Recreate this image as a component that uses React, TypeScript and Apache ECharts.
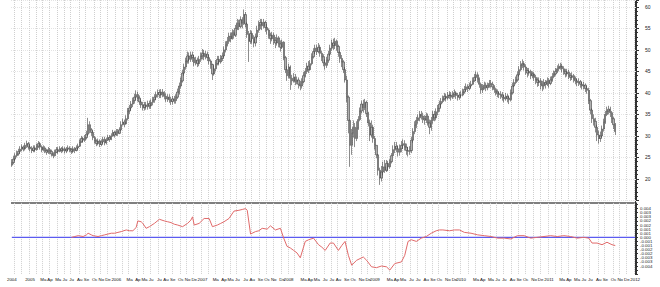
import React, { useEffect, useRef } from "react";
import * as echarts from "echarts";

// ---- data ----
const START_DATE = "2004-10-22";
const TOTAL_WEEKS = 377;
const MONTH_ABBR = ["Ja", "Fe", "Ma", "Ap", "Ma", "Ju", "Ju", "Au", "Se", "Oc", "No", "De"];
const firstOpen = 23.2;

const closes = [
  23.8, 24.6, 25.4, 25.8, 26.4, 26.9, 27.4, 27.0, 27.8, 28.2,
  27.4, 27.0, 26.6, 27.2, 26.8, 27.6, 28.2, 27.4, 26.8, 27.2,
  26.6, 26.2, 26.8, 26.4, 25.8, 25.4, 26.2, 26.8, 26.4, 27.0,
  26.6, 27.0, 26.5, 26.9, 27.2, 26.8, 26.4, 27.0, 26.6, 27.2,
  27.6, 28.6, 29.4, 29.0, 29.6, 30.4, 32.6, 31.4, 30.8, 29.6,
  28.8, 28.2, 28.8, 28.0, 28.6, 29.2, 28.4, 29.0, 29.6, 29.2,
  30.0, 30.8, 30.2, 31.0, 30.6, 31.4, 32.6, 33.2, 32.8, 34.0,
  35.8, 36.5, 37.4, 38.2, 39.0, 39.6, 38.8, 37.9, 37.2, 36.6,
  37.2, 36.8, 37.5, 37.0, 37.8, 38.4, 39.0, 39.6, 40.1, 39.5,
  40.2, 39.7, 39.2, 38.6, 39.0, 38.4, 38.0, 38.6, 38.2, 39.0,
  40.2, 41.6, 42.8, 44.6, 46.0, 47.4, 48.6, 47.8, 48.8, 48.2,
  47.0, 47.6, 46.8, 47.8, 48.6, 49.2, 48.4, 49.0, 48.2, 47.4,
  46.6, 44.4, 45.6, 46.8, 47.8, 47.2, 48.0, 48.6, 50.0, 51.2,
  52.0, 53.2, 52.6, 54.0, 53.4, 55.0, 56.2, 55.4, 57.0, 56.2,
  58.2, 56.0, 53.6, 52.0, 53.8, 52.6, 51.6, 53.0, 54.6, 55.8,
  56.4, 55.6, 56.4, 55.2, 54.6, 53.4, 52.6, 53.4, 52.2, 51.6,
  52.8, 51.4, 50.6, 51.8, 48.2, 45.4, 44.0, 46.0, 43.4, 42.8,
  43.6, 42.6, 43.0, 42.0, 41.6, 42.6, 44.0, 45.0, 46.2, 45.4,
  46.8, 48.4, 49.6, 50.4, 49.6, 50.6, 49.2, 48.4, 47.0, 46.4,
  47.6, 49.0, 50.4, 51.6, 51.0, 52.0, 50.8, 49.4, 48.0, 47.2,
  45.4, 43.0, 39.0, 33.6, 27.8, 30.6, 32.0, 29.4, 31.8, 33.8,
  35.8, 37.4, 36.6, 37.8, 35.2, 33.0, 30.2, 32.0, 29.4, 27.8,
  25.6, 22.0, 20.2, 21.6, 22.8, 22.0, 23.6, 22.8, 24.0, 25.4,
  26.8, 27.6, 27.0, 26.2, 27.0, 27.8, 28.2, 27.4, 26.6, 26.4,
  26.6, 29.0, 31.0, 32.5, 33.6, 34.2, 35.0, 34.6, 34.0, 33.7,
  34.6, 33.0, 32.0, 33.6, 35.0, 34.2, 35.6, 36.4, 37.4, 38.0,
  38.6, 39.2, 38.8, 39.4, 39.5, 39.0, 39.6, 40.0, 39.4, 39.0,
  39.5, 39.5, 40.2, 40.8, 41.4, 41.0, 41.6, 42.0, 42.8, 43.6,
  44.2, 43.2, 42.0, 40.7, 41.2, 41.8, 41.2, 41.6, 42.2, 42.0,
  41.4, 40.8, 40.2, 39.8, 39.6, 39.5, 39.0, 38.6, 39.2, 38.8,
  38.4, 40.0, 41.6, 42.4, 43.0, 44.2, 45.4, 46.5, 46.8, 46.0,
  45.2, 44.6, 45.0, 44.0, 44.4, 43.6, 43.0, 42.4, 42.8, 42.0,
  41.6, 42.4, 42.0, 42.8, 42.2, 43.0, 43.8, 44.4, 45.0, 45.6,
  46.0, 46.2, 45.6, 45.0, 44.4, 44.8, 44.0, 43.6, 44.0, 43.2,
  42.8, 42.4, 42.6, 42.0, 41.6, 41.8, 41.0, 40.6, 38.2, 36.0,
  34.0, 33.4, 32.0, 30.2, 29.4, 30.0, 31.6, 33.2, 35.0, 35.8,
  36.2, 35.4, 34.0, 32.6, 31.0,
];

const highs = [
  24.6, 25.4, 26.0, 26.6, 27.0, 27.6, 28.0, 27.8, 28.4, 28.9,
  28.6, 28.0, 27.6, 27.8, 27.8, 28.2, 28.8, 28.6, 27.8, 27.8,
  27.6, 27.0, 27.4, 27.2, 26.8, 26.2, 26.8, 27.4, 27.4, 27.6,
  27.4, 27.6, 27.4, 27.4, 27.8, 27.6, 27.2, 27.6, 27.4, 27.8,
  28.2, 29.2, 30.0, 29.8, 30.2, 31.2, 34.2, 33.4, 31.8, 31.2,
  30.0, 29.2, 29.4, 29.2, 29.2, 29.8, 29.8, 29.6, 30.2, 30.2,
  30.6, 31.4, 31.2, 31.6, 31.6, 32.0, 33.4, 34.0, 33.8, 34.8,
  36.5, 37.2, 38.1, 38.9, 39.8, 40.6, 40.3, 39.4, 38.5, 37.9,
  37.9, 37.9, 38.2, 38.2, 38.5, 39.1, 39.7, 40.3, 40.8, 40.8,
  40.9, 40.9, 40.4, 39.9, 39.7, 39.7, 39.1, 39.3, 39.3, 39.7,
  41.0, 42.4, 43.6, 45.4, 46.8, 48.2, 49.6, 49.4, 49.6, 49.6,
  48.8, 48.4, 48.2, 48.6, 49.4, 50.2, 50.0, 49.8, 49.6, 48.8,
  47.8, 46.8, 46.4, 47.6, 48.6, 48.6, 48.8, 49.4, 50.8, 52.0,
  53.0, 54.0, 54.0, 54.8, 54.6, 55.8, 57.2, 57.0, 57.8, 57.6,
  59.4, 58.8, 56.4, 54.4, 54.6, 54.4, 53.4, 53.8, 55.6, 56.8,
  57.2, 57.2, 57.2, 56.8, 56.0, 55.0, 54.0, 54.2, 54.0, 53.0,
  53.6, 53.2, 52.2, 52.4, 52.0, 48.6, 46.2, 46.8, 46.4, 44.2,
  44.6, 44.4, 43.8, 43.6, 42.8, 43.4, 44.8, 45.8, 47.0, 47.4,
  47.6, 49.2, 50.4, 51.2, 51.2, 51.6, 51.2, 49.8, 49.0, 47.8,
  48.4, 49.8, 51.2, 52.4, 52.6, 52.8, 52.4, 51.2, 49.6, 48.8,
  47.6, 46.0, 44.0, 39.4, 33.8, 31.6, 33.6, 33.0, 33.4, 34.6,
  36.6, 38.2, 38.4, 38.6, 38.2, 35.6, 33.8, 33.6, 32.6, 30.0,
  27.4, 25.8, 22.6, 23.0, 24.0, 24.4, 24.4, 24.2, 24.6, 26.0,
  27.8, 28.6, 28.6, 27.8, 28.0, 28.8, 29.2, 29.0, 28.2, 27.4,
  27.6, 29.8, 31.8, 33.4, 34.4, 35.0, 35.8, 35.8, 35.4, 34.8,
  35.4, 35.2, 33.8, 34.4, 35.8, 35.8, 36.4, 37.2, 38.2, 38.8,
  39.4, 40.0, 39.8, 40.2, 40.4, 40.2, 40.4, 40.8, 40.4, 40.0,
  40.2, 40.4, 41.0, 41.6, 42.2, 42.0, 42.4, 42.8, 43.6, 44.4,
  45.0, 44.8, 43.6, 42.4, 42.0, 42.6, 42.4, 42.4, 43.0, 43.0,
  42.6, 41.8, 41.2, 40.8, 40.4, 40.4, 40.2, 39.6, 40.0, 39.8,
  39.4, 40.8, 42.4, 43.2, 43.8, 45.0, 46.2, 47.4, 47.8, 47.4,
  46.6, 45.8, 45.8, 45.4, 45.0, 44.8, 44.2, 43.6, 43.6, 43.4,
  42.8, 43.2, 43.0, 43.6, 43.4, 43.8, 44.6, 45.2, 45.8, 46.4,
  46.8, 47.0, 46.8, 46.2, 45.6, 45.6, 45.4, 44.6, 44.8, 44.4,
  43.8, 43.4, 43.4, 43.0, 42.6, 42.6, 42.2, 41.6, 41.2, 38.6,
  36.4, 35.0, 34.2, 32.6, 31.2, 31.0, 32.4, 34.0, 35.8, 36.8,
  37.0, 36.8, 35.8, 34.4, 33.0,
];

const lows = [
  22.8, 23.4, 24.2, 25.0, 25.4, 25.9, 26.4, 26.4, 26.6, 27.2,
  26.8, 26.4, 26.0, 26.2, 26.2, 26.6, 27.2, 26.8, 26.2, 26.4,
  26.0, 25.6, 25.8, 25.8, 25.2, 24.8, 25.2, 26.0, 25.8, 26.2,
  26.0, 26.2, 25.9, 26.0, 26.4, 26.2, 25.8, 26.0, 26.0, 26.4,
  26.8, 27.4, 28.4, 28.4, 28.6, 29.2, 30.0, 30.6, 30.0, 29.0,
  28.2, 27.6, 27.8, 27.4, 27.6, 28.2, 27.8, 28.0, 28.8, 28.6,
  29.0, 29.8, 29.6, 30.0, 30.0, 30.4, 31.2, 32.4, 32.0, 32.6,
  33.6, 35.1, 35.9, 36.7, 37.5, 38.3, 38.0, 37.2, 36.5, 35.9,
  35.9, 36.1, 36.1, 36.3, 36.3, 37.1, 37.7, 38.3, 38.9, 38.8,
  38.8, 39.0, 38.5, 37.9, 37.9, 37.7, 37.2, 37.3, 37.5, 37.5,
  38.6, 39.6, 41.0, 42.4, 44.0, 45.4, 46.8, 46.8, 47.2, 47.2,
  46.2, 46.4, 46.0, 46.2, 47.2, 47.8, 47.6, 47.8, 47.4, 46.6,
  45.6, 43.0, 44.0, 45.0, 46.4, 46.4, 46.8, 47.4, 48.2, 49.4,
  50.8, 51.4, 51.8, 52.4, 52.6, 53.0, 54.6, 54.6, 55.0, 55.0,
  55.8, 55.2, 52.8, 47.2, 51.4, 51.4, 50.6, 50.8, 52.6, 54.0,
  54.8, 54.6, 55.0, 54.2, 53.6, 52.6, 51.4, 52.0, 51.2, 50.4,
  51.0, 50.6, 49.6, 50.2, 47.6, 44.6, 42.8, 43.4, 40.7, 41.8,
  42.4, 41.8, 42.0, 41.0, 40.6, 41.0, 42.2, 43.6, 44.4, 44.6,
  45.2, 46.4, 48.0, 49.0, 48.8, 49.2, 48.4, 47.4, 46.2, 45.4,
  45.8, 47.0, 48.6, 49.8, 50.0, 50.2, 49.8, 48.4, 47.0, 46.0,
  44.6, 42.4, 37.8, 30.6, 22.8, 25.6, 29.6, 27.4, 28.8, 31.4,
  33.4, 35.2, 35.4, 36.0, 34.4, 32.2, 28.8, 29.6, 28.4, 26.8,
  24.8, 20.8, 18.6, 19.4, 20.8, 21.4, 21.6, 21.8, 22.4, 23.6,
  25.4, 26.0, 26.2, 25.2, 25.4, 26.2, 27.0, 26.6, 25.6, 25.2,
  25.6, 26.0, 28.4, 30.4, 31.8, 32.8, 33.4, 33.8, 33.0, 32.6,
  33.0, 32.4, 30.4, 31.2, 32.8, 33.4, 33.6, 34.8, 35.6, 36.6,
  37.6, 38.2, 38.0, 38.4, 38.6, 38.2, 38.6, 39.0, 38.6, 38.2,
  38.4, 38.8, 39.2, 39.8, 40.4, 40.2, 40.6, 41.2, 41.8, 42.6,
  42.8, 42.4, 41.2, 39.8, 40.0, 40.8, 40.4, 40.6, 41.2, 41.2,
  40.6, 40.0, 39.4, 39.0, 38.8, 38.6, 38.2, 37.8, 38.2, 37.8,
  37.4, 38.0, 39.6, 41.4, 42.0, 42.6, 43.8, 45.0, 45.8, 45.2,
  44.2, 43.6, 44.0, 43.2, 43.4, 42.8, 42.0, 41.4, 41.6, 40.8,
  40.4, 40.8, 41.0, 41.6, 41.2, 41.8, 42.6, 43.4, 44.0, 44.6,
  45.0, 45.4, 44.8, 44.2, 43.6, 43.8, 43.2, 42.8, 43.0, 42.4,
  42.0, 41.6, 41.6, 41.2, 40.8, 40.8, 40.2, 39.8, 37.4, 35.0,
  33.0, 32.4, 30.8, 28.8, 28.2, 28.6, 29.6, 31.0, 32.8, 34.6,
  35.0, 34.4, 33.0, 31.6, 30.2,
];

// oscillator: week number (from START_DATE) and value
const oscWeeks = [
  36, 38, 40, 43, 45, 46, 48, 49, 52, 54, 56, 58, 60, 62, 64, 66, 69, 71, 73, 75,
  76, 78, 79, 81, 83, 86, 89, 92, 94, 96, 98, 100, 103, 106, 108, 109, 110, 113, 116, 119,
  121, 124, 126, 128, 131, 134, 137, 139, 141, 142, 144, 147, 149, 151, 154, 156, 159, 162, 164, 166,
  168, 170, 172, 174, 177, 179, 182, 185, 187, 189, 192, 194, 197, 199, 201, 203, 205, 208, 210, 212,
  214, 217, 220, 223, 226, 228, 231, 235, 237, 239, 241, 244, 247, 250, 253, 256, 258, 260, 264, 267,
  270, 273, 277, 281, 285, 289, 293, 297, 301, 305, 309, 313, 317, 321, 325, 329, 333, 337, 341, 345,
  348, 350, 353, 356, 359, 362, 364,
];
const oscValues = [
  0, 0.0001, 0.0002, 0.0001, 0.0003, 0.0005, 0.0003, 0.0002, 0.0001, 0.0002, 0.0003, 0.0004, 0.0005, 0.0005, 0.0006, 0.0007, 0.0009, 0.0008, 0.0008, 0.0012,
  0.002, 0.0019, 0.0017, 0.0011, 0.0013, 0.0017, 0.0022, 0.002, 0.0019, 0.0018, 0.0016, 0.0015, 0.0013, 0.0017, 0.0021, 0.0025, 0.0015, 0.0017, 0.0023, 0.0023,
  0.0013, 0.0015, 0.0017, 0.0019, 0.0023, 0.0032, 0.0033, 0.0034, 0.0035, 0.0033, 0.0004, 0.0007, 0.0008, 0.0011, 0.001, 0.0014, 0.0009, 0.0011, -0.0001, -0.0011,
  -0.0013, -0.0016, -0.0019, -0.0025, -0.0005, -0.0003, -0.0001, -0.0009, -0.0012, -0.0016, -0.0007, -0.0007, -0.0016, -0.001, -0.0005, -0.0022, -0.0034, -0.0028, -0.0026, -0.0024,
  -0.0028, -0.0036, -0.0037, -0.0035, -0.0036, -0.004, -0.0032, -0.003, -0.0022, -0.0005, -0.0003, -0.0005, -0.0001, 0.0001, 0.0005, 0.0008, 0.0009, 0.0009, 0.0008, 0.0009,
  0.0009, 0.0006, 0.0005, 0.0003, 0.0002, 0.0001, -0.0001, -0.0001, -0.0002, 0.0002, 0.0002, -0.0001, 0, 0.0001, 0.0002, 0.0001, 0.0002, 0.0001, -0.0001, 0,
  -0.0001, -0.0007, -0.0007, -0.0009, -0.0006, -0.0009, -0.001,
];
const zeroLevel = 0;

// ---- derived tables ----
const categories: string[] = [];
{
  const [y, m, d] = START_DATE.split("-").map(Number);
  const t0 = Date.UTC(y, m - 1, d);
  for (let k = 0; k < TOTAL_WEEKS; k++) {
    categories.push(new Date(t0 + k * 7 * 86400000).toISOString().slice(0, 10));
  }
}
const monthStart = categories.map(
  (c, i) => i === 0 || c.slice(5, 7) !== categories[i - 1].slice(5, 7)
);
const labelShown = new Set<number>();
{
  let last = -100;
  let lastW = 0;
  categories.forEach((c, i) => {
    if (!monthStart[i]) return;
    const isYear = i === 0 || c.slice(5, 7) === "01";
    if (i - last >= lastW) {
      labelShown.add(i);
      last = i;
      lastW = i === 0 ? 8 : isYear ? 6 : 3;
    }
  });
}
const fmtLabel = (v: string, i: number) => {
  const mo = Number(v.slice(5, 7));
  if (i === 0 || mo === 1) return v.slice(0, 4);
  return MONTH_ABBR[mo - 1];
};

const candles = closes.map((c, i) => {
  const o = i === 0 ? firstOpen : closes[i - 1];
  return [o, c, Math.min(lows[i], o, c), Math.max(highs[i], o, c)];
});
const oscData = oscWeeks.map((w, i) => [w, oscValues[i]]);
const zeroData = [
  [0, zeroLevel],
  [TOTAL_WEEKS - 1, zeroLevel],
];

const FONT = "Liberation Sans";

export default function App() {
  const ref = useRef<HTMLDivElement>(null);
  useEffect(() => {
    if (!ref.current) return;
    const chart = echarts.init(ref.current, undefined, { renderer: "svg" });
    const gridSplit = {
      show: true,
      interval: (i: number) => monthStart[i] && i > 0,
      lineStyle: { color: "#cfcfcf", type: "dotted" as const, width: 1 },
    };
    chart.setOption({
      animation: false,
      backgroundColor: "#ffffff",
      grid: [
        { left: 11, right: 24, top: 0, height: 200.4 },
        { left: 11, right: 24, top: 202.9, height: 71.3 },
      ],
      xAxis: [
        {
          type: "category",
          gridIndex: 0,
          data: categories,
          boundaryGap: true,
          axisLine: { show: false },
          axisTick: { show: false },
          axisLabel: { show: false },
          splitLine: gridSplit,
        },
        {
          type: "category",
          gridIndex: 1,
          data: categories,
          boundaryGap: true,
          axisLine: { show: false, onZero: false },
          axisTick: { show: false },
          axisLabel: {
            show: true,
            interval: (i: number) => labelShown.has(i),
            formatter: fmtLabel,
            fontSize: 4.4,
            fontFamily: FONT,
            color: "#111",
            margin: 3,
            hideOverlap: false,
          },
          splitLine: gridSplit,
        },
      ],
      yAxis: [
        {
          type: "value",
          gridIndex: 0,
          position: "right",
          min: 15,
          max: 61.6,
          interval: 5,
          axisLine: { show: true, lineStyle: { color: "#333" } },
          axisTick: { show: true, length: 3, lineStyle: { color: "#333" } },
          minorTick: { show: true, splitNumber: 5, length: 2, lineStyle: { color: "#333" } },
          axisLabel: {
            fontSize: 5,
            fontFamily: FONT,
            color: "#222",
            margin: 9,
            showMaxLabel: false,
            formatter: (v: number) => (v === 15 || v % 5 !== 0 ? "" : String(v)),
          },
          splitLine: { show: true, lineStyle: { color: "#e4e4e4", type: "dotted" } },
        },
        {
          type: "value",
          gridIndex: 1,
          position: "right",
          min: -0.0045,
          max: 0.0042,
          interval: 0.0005,
          axisLine: { show: true, lineStyle: { color: "#333" } },
          axisTick: { show: true, length: 2, lineStyle: { color: "#333" } },
          axisLabel: {
            fontSize: 4.4,
            fontFamily: FONT,
            color: "#222",
            margin: 4,
            showMaxLabel: false,
            formatter: (v: number) => (Math.abs(v) > 0.00351 ? "" : v.toFixed(3)),
          },
          splitLine: { show: false },
        },
      ],
      graphic: [
        {
          type: "line",
          shape: { x1: 11, y1: 203, x2: 636, y2: 203 },
          style: { stroke: "#555", lineWidth: 1.5 },
        },
        {
          type: "line",
          shape: { x1: 635.5, y1: 0, x2: 635.5, y2: 275 },
          style: { stroke: "#333", lineWidth: 1 },
        },
      ],
      series: [
        {
          type: "candlestick",
          xAxisIndex: 0,
          yAxisIndex: 0,
          data: candles,
          barWidth: 1.8,
          itemStyle: {
            color: "#b0b0b0",
            color0: "#b0b0b0",
            borderColor: "#404040",
            borderColor0: "#404040",
            borderWidth: 0.6,
          },
        },
        {
          type: "line",
          name: "zero",
          xAxisIndex: 1,
          yAxisIndex: 1,
          data: zeroData,
          showSymbol: false,
          silent: true,
          z: 2,
          lineStyle: { color: "#5b5bf0", width: 1.2 },
          itemStyle: { color: "#5b5bf0" },
        },
        {
          type: "line",
          xAxisIndex: 1,
          yAxisIndex: 1,
          data: oscData,
          showSymbol: false,
          z: 3,
          lineStyle: { color: "#e06a6a", width: 1 },
          itemStyle: { color: "#e06a6a" },
        },
      ],
    });
    return () => chart.dispose();
  }, []);
  return (
    <div
      ref={ref}
      style={{ position: "fixed", left: 0, top: 0, width: 660, height: 287, background: "#fff" }}
    />
  );
}
